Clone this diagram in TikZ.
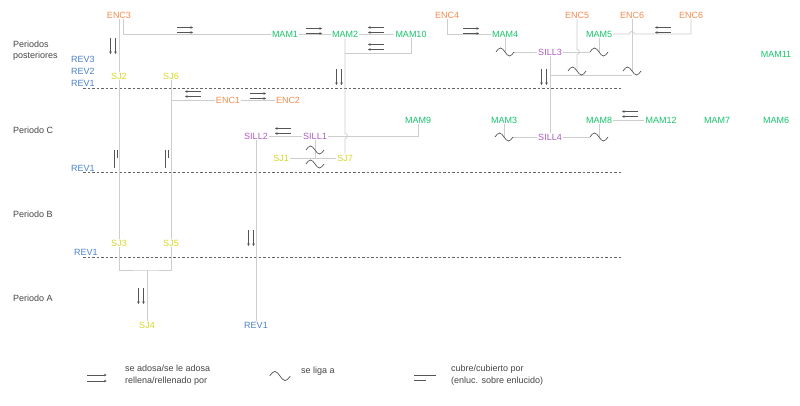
\documentclass[tikz,border=0pt]{standalone}
\usepackage{fontspec}
\setmainfont{Liberation Sans}
\usepackage{xcolor}
\usetikzlibrary{arrows.meta}

\definecolor{encorange}{RGB}{245,140,80}
\definecolor{mamgreen}{RGB}{25,195,110}
\definecolor{sillpurple}{RGB}{175,90,195}
\definecolor{sjyellow}{RGB}{215,215,40}
\definecolor{revblue}{RGB}{75,130,205}
\definecolor{labelgray}{RGB}{70,70,70}
\definecolor{linkgray}{RGB}{205,205,205}
\definecolor{perlinegray}{RGB}{100,100,100}
\definecolor{symgray}{RGB}{85,85,85}

% double arrow: [scale]{x}{y}{angle}
\newcommand{\adosa}[4][1]{%
  \begin{scope}[shift={(#2,#3)},rotate=#4,scale=#1]
    \draw[sym,-{Stealth[length=2.5pt,width=2.5pt]}] (-8,-2.5) -- (8,-2.5);
    \draw[sym,-{Stealth[length=2.5pt,width=2.5pt]}] (-8,2.5) -- (8,2.5);
  \end{scope}}
% tilde: [scale]{x}{y}
\newcommand{\liga}[3][1]{%
  \begin{scope}[shift={(#2,#3)},scale=#1]
    \draw[sym] (-9,0) sin (-4.5,-4) cos (0,0) sin (4.5,4) cos (9,0);
  \end{scope}}

\begin{document}
\begin{tikzpicture}[x=1pt,y=-1pt,
    every node/.style={font=\fontsize{9}{11}\selectfont, inner sep=1pt},
    lbl/.style={text height=6.5pt, text depth=0pt},
    enc/.style={lbl, text=encorange},
    mam/.style={lbl, text=mamgreen},
    sill/.style={lbl, text=sillpurple},
    sj/.style={lbl, text=sjyellow},
    rev/.style={lbl, text=revblue},
    periodo/.style={text=labelgray, align=left, anchor=west},
    leyenda/.style={text=labelgray, align=left, anchor=west, font=\fontsize{9}{12}\selectfont},
    link/.style={draw=linkgray, line width=0.8pt},
    perline/.style={draw=perlinegray, line width=0.6pt, dash pattern=on 2.5pt off 2pt},
    sym/.style={draw=symgray, line width=0.7pt}]
    \fill[white] (0,0) rectangle (800,406);
    \useasboundingbox (0,0) rectangle (800,406);

    % -------------------------
    % Periods
    % -------------------------
    \node[periodo] (pp) at (12,50.5) {Periodos\\posteriores};
    \node[periodo] (pc) at (12,130) {Periodo C};
    \node[periodo] (pb) at (12,214) {Periodo B};
    \node[periodo] (pa) at (12,298) {Periodo A};

    \draw[perline] (83,88.5) -- (622,88.5);
    \draw[perline] (83,172) -- (622,172);
    \draw[perline] (83,257) -- (622,257);

    % -------------------------
    % Units
    % -------------------------
    \node[enc] (enc3) at (119,15) {ENC3};
    \node[mam] (mam1) at (285,34) {MAM1};
    \node[mam] (mam2) at (345,34) {MAM2};
    \node[mam] (mam10) at (411,34) {MAM10};
    \node[enc] (enc4) at (447,15) {ENC4};
    \node[mam] (mam4) at (505,34) {MAM4};
    \node[sill] (sill3) at (550,52) {SILL3};
    \node[enc] (enc5) at (577,15) {ENC5};
    \node[mam] (mam5) at (599,34) {MAM5};
    \node[enc] (enc6a) at (632,15) {ENC6};
    \node[enc] (enc6b) at (691,15) {ENC6};
    \node[mam] (mam11) at (776,54) {MAM11};

    \node[rev, anchor=west] (rev3) at (70,59) {REV3};
    \node[rev, anchor=west] (rev2) at (70,71) {REV2};
    \node[rev, anchor=west] (rev1a) at (70,83) {REV1};
    \node[sj] (sj2) at (119,76) {SJ2};
    \node[sj] (sj6) at (171,76) {SJ6};

    \node[enc] (enc1) at (228,100) {ENC1};
    \node[enc] (enc2) at (288,100) {ENC2};
    \node[sill] (sill2) at (256,136) {SILL2};
    \node[sill] (sill1) at (315,136) {SILL1};
    \node[mam] (mam9) at (418,120) {MAM9};
    \node[sj] (sj1) at (281,158) {SJ1};
    \node[sj] (sj7) at (345,158) {SJ7};
    \node[mam] (mam3) at (504,120) {MAM3};
    \node[sill] (sill4) at (550,137) {SILL4};
    \node[mam] (mam8) at (599,120) {MAM8};
    \node[mam] (mam12) at (661,120) {MAM12};
    \node[mam] (mam7) at (717,120) {MAM7};
    \node[mam] (mam6) at (776,120) {MAM6};
    \node[rev, anchor=west] (rev1b) at (70,168) {REV1};

    \node[sj] (sj3) at (119,243) {SJ3};
    \node[sj] (sj5) at (171,243) {SJ5};
    \node[rev, anchor=west] (rev1c) at (73,252) {REV1};
    \node[sj] (sj4) at (147,325) {SJ4};
    \node[rev] (rev1d) at (256,325) {REV1};

    % junctions, tildes and hops
    \coordinate (j10) at (345,53);
    \coordinate (t4) at (505,52);
    \coordinate (t5) at (599,52);
    \coordinate (t5b) at (577,71);
    \coordinate (t6) at (632,71);
    \coordinate (b1) at (550,75);
    \coordinate (b2) at (632,75);
    \coordinate (t3) at (504,137);
    \coordinate (t8) at (599,137);
    \coordinate (j4) at (147,270);
    \coordinate (h1) at (345,133.5);
    \coordinate (h2) at (577,49.5);
    \coordinate (h3) at (629.5,34);

    % -------------------------
    % Connectors
    % -------------------------
    \draw[link] (enc3.south) -- (sj2.north);
    \draw[link] ([xshift=4pt]enc3.south) |- (mam1.west);
    \draw[link] (mam1) -- (mam2);
    \draw[link] (mam2) -- (mam10);
    \draw[link] (mam10.south) |- (j10);
    \draw[link] (mam2.south) -- (h1) arc[start angle=-90, end angle=90, radius=2.5] -- (sj7.north);
    \draw[link] (sj2.south) -- (sj3.north);
    \draw[link] (sj6.south) -- (sj5.north);
    \draw[link] (sj6.south |- enc1.west) -- (enc1.west);
    \draw[link] (enc1) -- (enc2);
    \draw[link] (sill2) -- (sill1);
    \draw[link] (sill1.east) -| (mam9.south);
    \draw[link] (sill1.south) -- (sill1.south |- sj1.east);
    \draw[link] (sj1) -- (sj7);
    \draw[link] (sill2.south) -- (rev1d.north);
    \draw[link] (sj3.south) |- (j4) -| (sj5.south);
    \draw[link] (j4) -- (sj4.north);

    \draw[link] (enc4.south) |- (mam4.west);
    \draw[link] (mam4.south) -- (t4);
    \draw[link] ([xshift=9pt]t4) -- (sill3.west);
    \draw[link] (sill3.east) -- ([xshift=-9pt]t5);
    \draw[link] (mam5.south) -- (t5);
    \draw[link] (enc5.south) -- (h2) arc[start angle=-90, end angle=90, radius=2.5] -- (t5b);
    \draw[link] (enc6a.south) -- (t6);
    \draw[link] (mam5.east) -- (h3) arc[start angle=180, end angle=360, radius=2.5] -| (enc6b.south);
    \draw[link] (b1) -- (b2);
    \draw[link] (sill3.south) -- (sill4.north);
    \draw[link] (mam3.south) -- (t3);
    \draw[link] ([xshift=9pt]t3) -- (sill4.west);
    \draw[link] (sill4.east) -- ([xshift=-9pt]t8);
    \draw[link] (mam8.south) -- (t8);
    \draw[link] (mam8) -- (mam12);

    % -------------------------
    % Relation marks
    % -------------------------
    \adosa{185}{30}{0}
    \adosa{314}{31}{0}
    \adosa{376}{30}{180}
    \adosa{376}{47}{180}
    \adosa{339}{77}{-90}
    \adosa{113}{46}{-90}
    \adosa{193}{94}{180}
    \adosa{258}{96}{0}
    \adosa{283}{131}{180}
    \adosa{471}{31}{0}
    \adosa{663}{30}{180}
    \adosa{544}{77}{-90}
    \adosa{630}{114}{180}
    \adosa{251}{238}{-90}
    \adosa{141}{296}{-90}

    \liga{505}{52}
    \liga{599}{52}
    \liga{577}{71}
    \liga{632}{71}
    \liga{504}{137}
    \liga{599}{137}
    \liga{315}{150}
    \liga{315}{164}

    % cover marks
    \draw[sym] (114,150) -- (114,168);
    \draw[sym] (117,150) -- (117,158);
    \draw[sym] (165.5,150) -- (165.5,168);
    \draw[sym] (168.5,150) -- (168.5,158);

    % -------------------------
    % Legend
    % -------------------------
    \adosa[1.2]{97}{378}{0}
    \node[leyenda] (leg1) at (124,375) {se adosa/se le adosa\\rellena/rellenado por};
    \liga[1.15]{280}{376}
    \node[leyenda] (leg2) at (300,371) {se liga a};
    \draw[sym] (414,375) -- (436,375);
    \draw[sym] (414,380) -- (426,380);
    \node[leyenda] (leg3) at (450,375) {cubre/cubierto por\\(enluc. sobre enlucido)};

\end{tikzpicture}
\end{document}
